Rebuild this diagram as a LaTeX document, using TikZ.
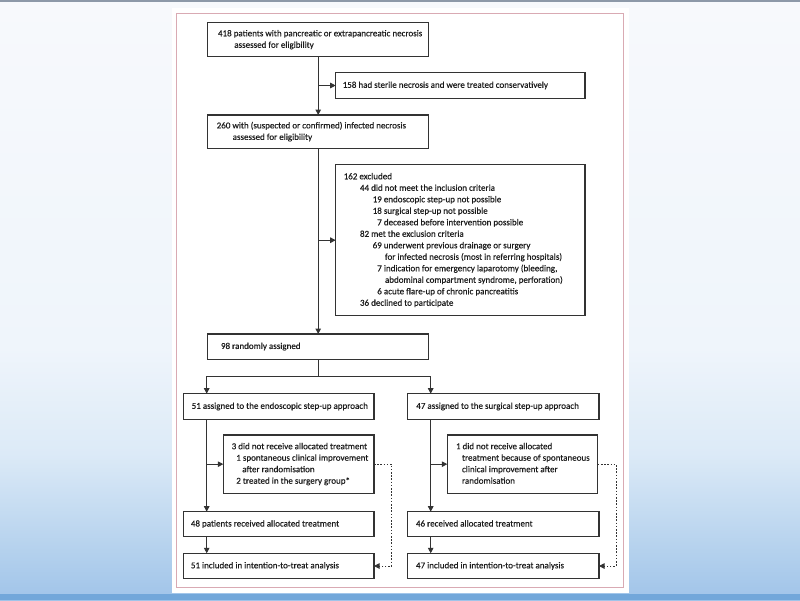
\documentclass[tikz,border=0pt]{standalone}
\usepackage{fontspec}
\setmainfont{Carlito}[FakeBold=0.25]
\usetikzlibrary{arrows.meta}
\definecolor{bgA}{HTML}{F7F9FC}
\definecolor{bgB}{HTML}{EFF5FB}
\definecolor{bgC}{HTML}{DCEAF7}
\definecolor{bgD}{HTML}{BCD6EF}
\definecolor{bgE}{HTML}{A0C4E9}
\definecolor{stripT}{HTML}{8D99A8}
\definecolor{stripB}{HTML}{72A7DA}
\definecolor{linec}{HTML}{333333}
\definecolor{textc}{HTML}{1C1C1C}
\definecolor{panelc}{HTML}{D9AAB3}
\pgfdeclareverticalshading{bgsh}{100bp}{color(0bp)=(bgE); color(25bp)=(bgE); color(30.7bp)=(bgD); color(37.2bp)=(bgC); color(46bp)=(bgB); color(75bp)=(bgA); color(100bp)=(bgA)}
\newcommand{\bxtxt}[3]{\makebox[#1pt][l]{\hspace*{#2pt}\begin{tabular}{@{}l@{}}#3\end{tabular}}}
\tikzset{
  flowbox/.style={draw=linec, line width=1.1pt, fill=white, anchor=north west,
    inner xsep=0pt, inner ysep=0pt, outer sep=0pt, text=textc,
    font=\fontsize{9}{11.5}\selectfont},
  ln/.style={draw=linec, line width=1pt},
  arr/.style={ln, -{Triangle[length=5.5pt,width=5.5pt]}},
  dotln/.style={draw=linec, line width=1pt, dash pattern=on 1.6pt off 1.6pt, -{Triangle[length=5.5pt,width=5.5pt]}}
}
\begin{document}
\begin{tikzpicture}[x=1pt,y=-1pt]
\useasboundingbox (0,0) rectangle (800,600);
% background
\shade[shading=bgsh] (0,0) rectangle (800,600);
\fill[stripT] (0,0) rectangle (800,2);
\fill[stripB] (0,594) rectangle (800,600);
% panel
\fill[white] (171.5,8) rectangle (628.5,592.5);
\draw[panelc, line width=0.8pt] (176,13.3) rectangle (623.5,587.5);

% boxes
\node[flowbox, minimum width=221pt, minimum height=34pt] (b418) at (207.7,22.7)
  {\bxtxt{221}{10.3}{418 patients with pancreatic or extrapancreatic necrosis\\\hspace*{16.3pt}assessed for eligibility}};
\node[flowbox, minimum width=249.3pt, minimum height=25.6pt] (b158) at (335.7,72.7)
  {\bxtxt{249.3}{7}{158 had sterile necrosis and were treated conservatively}};
\node[flowbox, minimum width=221pt, minimum height=33.7pt] (b260) at (207.7,115)
  {\bxtxt{221}{9}{260 with (suspected or confirmed) infected necrosis\\\hspace*{16pt}assessed for eligibility}};
\node[flowbox, minimum width=249.3pt, minimum height=151pt] (b162) at (335.7,164.7)
  {\bxtxt{249.3}{8}{162 excluded\\
   \hspace*{16.3pt}44 did not meet the inclusion criteria\\
   \hspace*{29pt}19 endoscopic step-up not possible\\
   \hspace*{29pt}18 surgical step-up not possible\\
   \hspace*{33.6pt}7 deceased before intervention possible\\
   \hspace*{16.3pt}82 met the exclusion criteria\\
   \hspace*{29pt}69 underwent previous drainage or surgery\\
   \hspace*{41.3pt}for infected necrosis (most in referring hospitals)\\
   \hspace*{33.6pt}7 indication for emergency laparotomy (bleeding,\\
   \hspace*{41.3pt}abdominal compartment syndrome, perforation)\\
   \hspace*{33.6pt}6 acute flare-up of chronic pancreatitis\\
   \hspace*{16.3pt}36 declined to participate}};
\node[flowbox, minimum width=221pt, minimum height=25.3pt] (b98) at (207.7,334)
  {\bxtxt{221}{13.3}{98 randomly assigned}};
\node[flowbox, minimum width=190.7pt, minimum height=25.6pt] (bE) at (183.3,393.7)
  {\bxtxt{190.7}{8.4}{51 assigned to the endoscopic step-up approach}};
\node[flowbox, minimum width=191.3pt, minimum height=25.6pt] (bS) at (407.7,393.7)
  {\bxtxt{191.3}{8.6}{47 assigned to the surgical step-up approach}};
\node[flowbox, minimum width=150.7pt, minimum height=58.3pt] (bE3) at (223.3,435)
  {\bxtxt{150.7}{8.4}{3 did not receive allocated treatment\\
   \hspace*{4.6pt}1 spontaneous clinical improvement\\
   \hspace*{10.6pt}after randomisation\\
   \hspace*{4.6pt}2 treated in the surgery group*}};
\node[flowbox, minimum width=150.4pt, minimum height=58.3pt] (bS1) at (447.3,435)
  {\bxtxt{150.4}{8.7}{1 did not receive allocated\\
   \hspace*{6pt}treatment because of spontaneous\\
   \hspace*{6pt}clinical improvement after\\
   \hspace*{6pt}randomisation}};
\node[flowbox, minimum width=190.7pt, minimum height=25pt] (bE48) at (183.3,511.7)
  {\bxtxt{190.7}{7.6}{48 patients received allocated treatment}};
\node[flowbox, minimum width=191.3pt, minimum height=25pt] (bS46) at (407.7,511.7)
  {\bxtxt{191.3}{8.3}{46 received allocated treatment}};
\node[flowbox, minimum width=190.7pt, minimum height=25.4pt] (bE51) at (183.3,553.3)
  {\bxtxt{190.7}{7.6}{51 included in intention-to-treat analysis}};
\node[flowbox, minimum width=191.3pt, minimum height=25.4pt] (bS47) at (407.7,553.3)
  {\bxtxt{191.3}{8.3}{47 included in intention-to-treat analysis}};

% junction coordinates
\coordinate (jL) at (206.7,376);
\coordinate (jR) at (430.7,376);

% connectors
\draw[arr] (b418.south) -- (b260.north);
\draw[arr] (b418.south |- b158.west) -- (b158.west);
\draw[arr] (b260.south) -- (b98.north);
\draw[arr] (b260.south |- b162.west) -- (b162.west);
\draw[ln] (b98.south) -- (b98.south |- jL);
\draw[ln] (jL) -- (jR);
\draw[arr] (jL) -- (jL |- bE.north);
\draw[arr] (jR) -- (jR |- bS.north);
\draw[arr] (jL |- bE.south) -- (jL |- bE48.north);
\draw[arr] (jL |- bE3.west) -- (bE3.west);
\draw[arr] (jL |- bE48.south) -- (jL |- bE51.north);
\draw[arr] (jR |- bS.south) -- (jR |- bS46.north);
\draw[arr] (jR |- bS1.west) -- (bS1.west);
\draw[arr] (jR |- bS46.south) -- (jR |- bS47.north);
\draw[dotln] (bE3.east) -- ++(17.7,0) |- (bE51.east);
\draw[dotln] (bS1.east) -- ++(18.3,0) |- (bS47.east);
\end{tikzpicture}
\end{document}
